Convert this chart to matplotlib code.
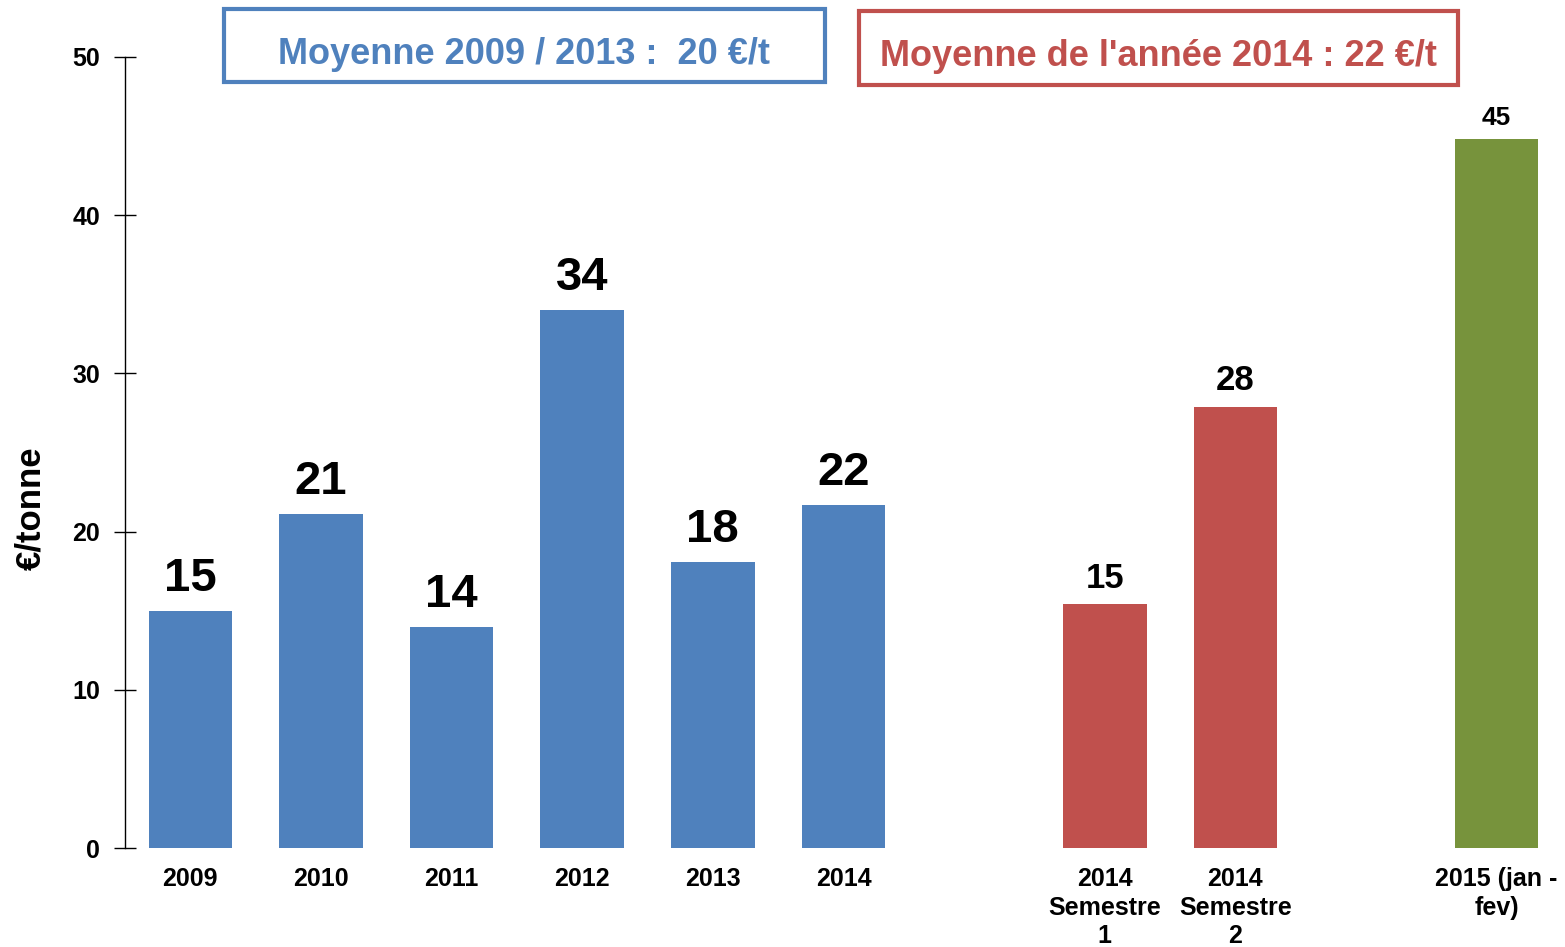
import matplotlib
matplotlib.use("Agg")
import matplotlib.pyplot as plt

plt.rcParams['font.family'] = ['Liberation Sans', 'DejaVu Sans']

categories = ["2009", "2010", "2011", "2012", "2013", "2014",
              "2014\nSemestre\n1", "2014\nSemestre\n2", "2015 (jan -\nfev)"]
values = [15.0, 21.1, 14.0, 34.0, 18.1, 21.7, 15.4, 27.9, 44.8]
labels = ["15", "21", "14", "34", "18", "22", "15", "28", "45"]
slots = [0, 1, 2, 3, 4, 5, 7, 8, 10]
groups = ["blue"] * 6 + ["red"] * 2 + ["green"]
yticks = [0, 10, 20, 30, 40, 50]
box_blue = "Moyenne 2009 / 2013 :  20 €/t"
box_red = "Moyenne de l'année 2014 : 22 €/t"
ylabel = "€/tonne"

colors = {"blue": "#4F81BD", "red": "#C0504D", "green": "#77933C"}
label_size = {"blue": 34, "red": 25, "green": 19}

fig = plt.figure(figsize=(15.65, 9.47), dpi=100)
ax = fig.add_axes([125/1565, 1 - 848/947, (1562 - 125)/1565, (848 - 57)/947])

for s, v, g, lab in zip(slots, values, groups, labels):
    ax.bar(s, v, width=0.64, color=colors[g], edgecolor='none', zorder=2)
    ax.annotate(lab, (s, v), xytext=(0, 7), textcoords='offset points',
                ha='center', va='bottom', fontsize=label_size[g],
                fontweight='bold', color='black')

ax.set_xlim(-0.5, 10.5)
ax.set_ylim(0, 50)
ax.set_yticks(yticks)
ax.set_yticklabels([str(t) for t in yticks], fontsize=18, fontweight='bold')
ax.set_xticks(slots)
ax.set_xticklabels(categories, fontsize=18, fontweight='bold', linespacing=1.22)
ax.tick_params(axis='x', length=0, pad=14)
ax.tick_params(axis='y', direction='inout', length=16, width=1, pad=10)
for sp in ['top', 'right', 'bottom']:
    ax.spines[sp].set_visible(False)
ax.spines['left'].set_linewidth(1)

fig.text(31/1565, 1 - 508/947, ylabel, rotation=90, ha='center', va='center',
         fontsize=25, fontweight='bold')

# annotation boxes
def box(x0, y0, x1, y1, color, text, size, ty):
    r = plt.Rectangle((x0/1565, 1 - y1/947), (x1 - x0)/1565, (y1 - y0)/947,
                      transform=fig.transFigure, fill=False, edgecolor=color,
                      linewidth=3, zorder=5)
    fig.add_artist(r)
    fig.text((x0 + x1)/2/1565, 1 - ty/947, text, ha='center', va='center_baseline',
             fontsize=size, fontweight='bold', color=color)

box(224, 9, 825, 82, "#4F81BD", box_blue, 26, 50)
box(859, 11, 1458, 85, "#C0504D", box_red, 26, 53)

fig.savefig("out.png", dpi=100)
